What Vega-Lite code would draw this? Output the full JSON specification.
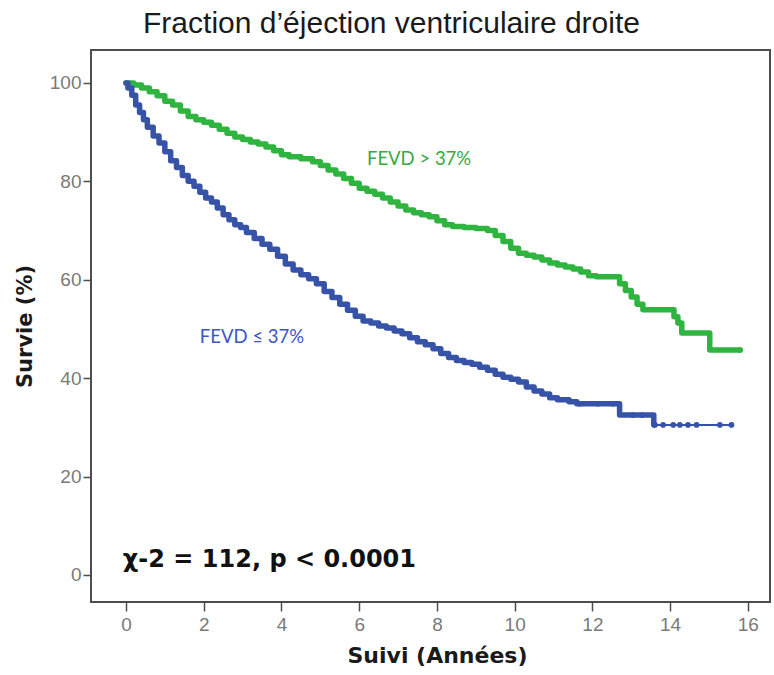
{
  "$schema": "https://vega.github.io/schema/vega-lite/v6.json",
  "width": 679,
  "height": 552,
  "autosize": "none",
  "padding": {"left": 91, "top": 50, "right": 4, "bottom": 73},
  "background": "white",
  "title": {
    "text": "Fraction d’éjection ventriculaire droite",
    "font": "Liberation Sans",
    "fontSize": 30,
    "fontWeight": "normal",
    "color": "#1a1a1a",
    "anchor": "middle",
    "dx": -39,
    "offset": 11
  },
  "config": {
    "view": {"stroke": "#4d4d4d", "strokeWidth": 2},
    "axis": {
      "grid": false,
      "domain": false,
      "labelFont": "Liberation Sans",
      "labelFontSize": 19,
      "labelColor": "#7a7a7a",
      "tickColor": "#4d4d4d",
      "tickWidth": 1.5,
      "titleFont": "DejaVu Sans",
      "titleFontWeight": "bold",
      "titleColor": "#1a1a1a"
    }
  },
  "datasets": {
    "km": [
      {"group": "high", "t": 0, "s": 100},
      {"group": "high", "t": 0.2, "s": 99.6},
      {"group": "high", "t": 0.4, "s": 99.0},
      {"group": "high", "t": 0.6, "s": 98.2},
      {"group": "high", "t": 0.8, "s": 97.4},
      {"group": "high", "t": 1.0, "s": 96.3},
      {"group": "high", "t": 1.2, "s": 95.5},
      {"group": "high", "t": 1.4, "s": 94.3},
      {"group": "high", "t": 1.6, "s": 93.2},
      {"group": "high", "t": 1.8, "s": 92.5},
      {"group": "high", "t": 2.0, "s": 92.0},
      {"group": "high", "t": 2.2, "s": 91.4},
      {"group": "high", "t": 2.4, "s": 90.6},
      {"group": "high", "t": 2.6, "s": 89.8},
      {"group": "high", "t": 2.8, "s": 89.0},
      {"group": "high", "t": 3.0, "s": 88.5},
      {"group": "high", "t": 3.2, "s": 88.0},
      {"group": "high", "t": 3.4, "s": 87.6},
      {"group": "high", "t": 3.6, "s": 87.0},
      {"group": "high", "t": 3.8, "s": 86.2},
      {"group": "high", "t": 4.0, "s": 85.4},
      {"group": "high", "t": 4.2, "s": 85.0},
      {"group": "high", "t": 4.5, "s": 84.6},
      {"group": "high", "t": 4.8, "s": 84.0},
      {"group": "high", "t": 5.0, "s": 83.2},
      {"group": "high", "t": 5.2, "s": 82.3},
      {"group": "high", "t": 5.4, "s": 81.5},
      {"group": "high", "t": 5.6, "s": 80.6},
      {"group": "high", "t": 5.8, "s": 79.6},
      {"group": "high", "t": 6.0, "s": 78.6},
      {"group": "high", "t": 6.2, "s": 78.0},
      {"group": "high", "t": 6.4, "s": 77.4},
      {"group": "high", "t": 6.6, "s": 76.6},
      {"group": "high", "t": 6.8, "s": 75.8},
      {"group": "high", "t": 7.0, "s": 75.0},
      {"group": "high", "t": 7.2, "s": 74.2},
      {"group": "high", "t": 7.4, "s": 73.6},
      {"group": "high", "t": 7.6, "s": 73.2},
      {"group": "high", "t": 7.8, "s": 72.8},
      {"group": "high", "t": 8.0, "s": 72.0},
      {"group": "high", "t": 8.2, "s": 71.2},
      {"group": "high", "t": 8.4, "s": 70.8},
      {"group": "high", "t": 8.7, "s": 70.6},
      {"group": "high", "t": 9.0, "s": 70.4},
      {"group": "high", "t": 9.3, "s": 70.0},
      {"group": "high", "t": 9.5, "s": 69.0},
      {"group": "high", "t": 9.7, "s": 67.8},
      {"group": "high", "t": 9.9, "s": 66.4},
      {"group": "high", "t": 10.1, "s": 65.4},
      {"group": "high", "t": 10.3, "s": 65.0},
      {"group": "high", "t": 10.5, "s": 64.6},
      {"group": "high", "t": 10.7, "s": 64.0},
      {"group": "high", "t": 10.9, "s": 63.4},
      {"group": "high", "t": 11.1, "s": 63.0},
      {"group": "high", "t": 11.3, "s": 62.6},
      {"group": "high", "t": 11.5, "s": 62.2},
      {"group": "high", "t": 11.7, "s": 61.6},
      {"group": "high", "t": 11.9, "s": 60.8},
      {"group": "high", "t": 12.1, "s": 60.6},
      {"group": "high", "t": 12.7, "s": 59.2},
      {"group": "high", "t": 12.85, "s": 57.8},
      {"group": "high", "t": 13.0, "s": 56.5},
      {"group": "high", "t": 13.15, "s": 55.0},
      {"group": "high", "t": 13.3, "s": 53.9},
      {"group": "high", "t": 14.1, "s": 52.5},
      {"group": "high", "t": 14.2, "s": 51.2},
      {"group": "high", "t": 14.3, "s": 49.2},
      {"group": "high", "t": 15.02, "s": 45.7},
      {"group": "high", "t": 15.8, "s": 45.7},
      {"group": "low", "t": 0, "s": 100},
      {"group": "low", "t": 0.05, "s": 99},
      {"group": "low", "t": 0.15, "s": 97.5},
      {"group": "low", "t": 0.25, "s": 95.5},
      {"group": "low", "t": 0.35, "s": 94},
      {"group": "low", "t": 0.45, "s": 92.5},
      {"group": "low", "t": 0.55, "s": 91},
      {"group": "low", "t": 0.7, "s": 89.2},
      {"group": "low", "t": 0.85, "s": 87.8},
      {"group": "low", "t": 1.0, "s": 86},
      {"group": "low", "t": 1.15, "s": 84.2},
      {"group": "low", "t": 1.3, "s": 82.8},
      {"group": "low", "t": 1.45, "s": 81.2},
      {"group": "low", "t": 1.6, "s": 80},
      {"group": "low", "t": 1.75, "s": 79},
      {"group": "low", "t": 1.9, "s": 77.8},
      {"group": "low", "t": 2.05, "s": 76.6},
      {"group": "low", "t": 2.2, "s": 75.8},
      {"group": "low", "t": 2.35, "s": 74.6},
      {"group": "low", "t": 2.5, "s": 73.2},
      {"group": "low", "t": 2.65, "s": 72.2},
      {"group": "low", "t": 2.8, "s": 71.2},
      {"group": "low", "t": 2.95, "s": 70.6},
      {"group": "low", "t": 3.1, "s": 69.6},
      {"group": "low", "t": 3.3, "s": 68.4},
      {"group": "low", "t": 3.5, "s": 67.2},
      {"group": "low", "t": 3.7, "s": 66.2},
      {"group": "low", "t": 3.9, "s": 64.8},
      {"group": "low", "t": 4.1, "s": 63.2},
      {"group": "low", "t": 4.3, "s": 62.0},
      {"group": "low", "t": 4.5, "s": 61.0},
      {"group": "low", "t": 4.7, "s": 60.2},
      {"group": "low", "t": 4.9, "s": 59.2},
      {"group": "low", "t": 5.1, "s": 57.6},
      {"group": "low", "t": 5.3, "s": 56.4},
      {"group": "low", "t": 5.5, "s": 55.0},
      {"group": "low", "t": 5.7, "s": 53.8},
      {"group": "low", "t": 5.9, "s": 52.6},
      {"group": "low", "t": 6.1, "s": 51.6},
      {"group": "low", "t": 6.3, "s": 51.2},
      {"group": "low", "t": 6.5, "s": 50.6},
      {"group": "low", "t": 6.7, "s": 50.2},
      {"group": "low", "t": 6.9, "s": 49.6},
      {"group": "low", "t": 7.1, "s": 49.0},
      {"group": "low", "t": 7.3, "s": 48.2},
      {"group": "low", "t": 7.5, "s": 47.4},
      {"group": "low", "t": 7.7, "s": 46.8},
      {"group": "low", "t": 7.9, "s": 46.0},
      {"group": "low", "t": 8.1, "s": 45.0},
      {"group": "low", "t": 8.3, "s": 44.2},
      {"group": "low", "t": 8.5, "s": 43.6},
      {"group": "low", "t": 8.7, "s": 43.2},
      {"group": "low", "t": 8.9, "s": 42.8},
      {"group": "low", "t": 9.1, "s": 42.2},
      {"group": "low", "t": 9.3, "s": 41.6},
      {"group": "low", "t": 9.5, "s": 40.8},
      {"group": "low", "t": 9.7, "s": 40.2},
      {"group": "low", "t": 9.9, "s": 39.8},
      {"group": "low", "t": 10.1, "s": 39.2},
      {"group": "low", "t": 10.3, "s": 38.2},
      {"group": "low", "t": 10.5, "s": 37.4},
      {"group": "low", "t": 10.7, "s": 36.8},
      {"group": "low", "t": 10.9, "s": 36.0},
      {"group": "low", "t": 11.1, "s": 35.6},
      {"group": "low", "t": 11.4, "s": 35.2},
      {"group": "low", "t": 11.6, "s": 34.8},
      {"group": "low", "t": 12.7, "s": 32.5},
      {"group": "low", "t": 13.58, "s": 30.5},
      {"group": "low", "t": 15.6, "s": 30.5}
    ],
    "censor": [
      {"group": "low", "t": 13.61, "s": 30.5},
      {"group": "low", "t": 13.82, "s": 30.5},
      {"group": "low", "t": 14.08, "s": 30.5},
      {"group": "low", "t": 14.25, "s": 30.5},
      {"group": "low", "t": 14.46, "s": 30.5},
      {"group": "low", "t": 14.68, "s": 30.5},
      {"group": "low", "t": 15.28, "s": 30.5},
      {"group": "low", "t": 15.58, "s": 30.5},
      {"group": "low", "t": 11.68, "s": 34.8},
      {"group": "low", "t": 12.14, "s": 34.8},
      {"group": "low", "t": 12.53, "s": 34.8},
      {"group": "low", "t": 13.04, "s": 32.5},
      {"group": "low", "t": 13.28, "s": 32.5},
      {"group": "high", "t": 15.8, "s": 45.7}
    ],
    "labels": [
      {"t": 6.2, "s": 84.6, "label": "FEVD > 37%", "kind": "high"},
      {"t": 1.9, "s": 48.4, "label": "FEVD ≤ 37%", "kind": "low"},
      {"t": -0.08, "s": 3.05, "label": "χ-2 = 112, p < 0.0001", "kind": "stat"}
    ]
  },
  "layer": [
    {
      "data": {"name": "km"},
      "mark": {"type": "line", "interpolate": "step-after", "strokeWidth": 2, "clip": true},
      "encoding": {
        "x": {"field": "t", "type": "quantitative",
          "scale": {"domain": [-0.9, 16.57], "nice": false, "zero": false},
          "axis": {"values": [0, 2, 4, 6, 8, 10, 12, 14, 16], "tickSize": 9, "labelPadding": 4,
            "title": "Suivi (Années)", "titleFontSize": 22, "titlePadding": 11, "titleX": 346}},
        "y": {"field": "s", "type": "quantitative",
          "scale": {"domain": [-5.5, 106.7], "nice": false, "zero": false},
          "axis": {"values": [0, 20, 40, 60, 80, 100], "tickSize": 8, "labelPadding": 2,
            "title": "Survie (%)", "titleFontSize": 21, "titlePadding": 14}},
        "color": {"field": "group", "type": "nominal",
          "scale": {"domain": ["high", "low"], "range": ["#2fb440", "#3653a8"]}, "legend": null}
      }
    },
    {
      "data": {"name": "km"},
      "transform": [{"filter": "datum.group == 'high' || datum.t <= 13.6"}],
      "mark": {"type": "line", "interpolate": "step-after", "strokeWidth": 5.5, "strokeJoin": "round", "strokeCap": "round"},
      "encoding": {
        "x": {"field": "t", "type": "quantitative"},
        "y": {"field": "s", "type": "quantitative"},
        "color": {"field": "group", "type": "nominal",
          "scale": {"domain": ["high", "low"], "range": ["#2fb440", "#3653a8"]}, "legend": null}
      }
    },
    {
      "data": {"name": "censor"},
      "mark": {"type": "point", "filled": true, "size": 32, "opacity": 1},
      "encoding": {
        "x": {"field": "t", "type": "quantitative"},
        "y": {"field": "s", "type": "quantitative"},
        "color": {"field": "group", "type": "nominal",
          "scale": {"domain": ["high", "low"], "range": ["#2fb440", "#3653a8"]}, "legend": null}
      }
    },
    {
      "data": {"name": "labels"},
      "transform": [{"filter": "datum.kind != 'stat'"}],
      "mark": {"type": "text", "align": "left", "baseline": "middle", "font": "Lato", "fontSize": 18.5},
      "encoding": {
        "x": {"field": "t", "type": "quantitative"},
        "y": {"field": "s", "type": "quantitative"},
        "text": {"field": "label"},
        "color": {"field": "kind", "type": "nominal",
          "scale": {"domain": ["high", "low"], "range": ["#38a843", "#3b56c6"]}, "legend": null}
      }
    },
    {
      "data": {"name": "labels"},
      "transform": [{"filter": "datum.kind == 'stat'"}],
      "mark": {"type": "text", "align": "left", "baseline": "middle", "font": "DejaVu Sans", "fontSize": 24, "fontWeight": "bold", "color": "#111111"},
      "encoding": {
        "x": {"field": "t", "type": "quantitative"},
        "y": {"field": "s", "type": "quantitative"},
        "text": {"field": "label"}
      }
    }
  ],
  "resolve": {"scale": {"color": "independent"}}
}
